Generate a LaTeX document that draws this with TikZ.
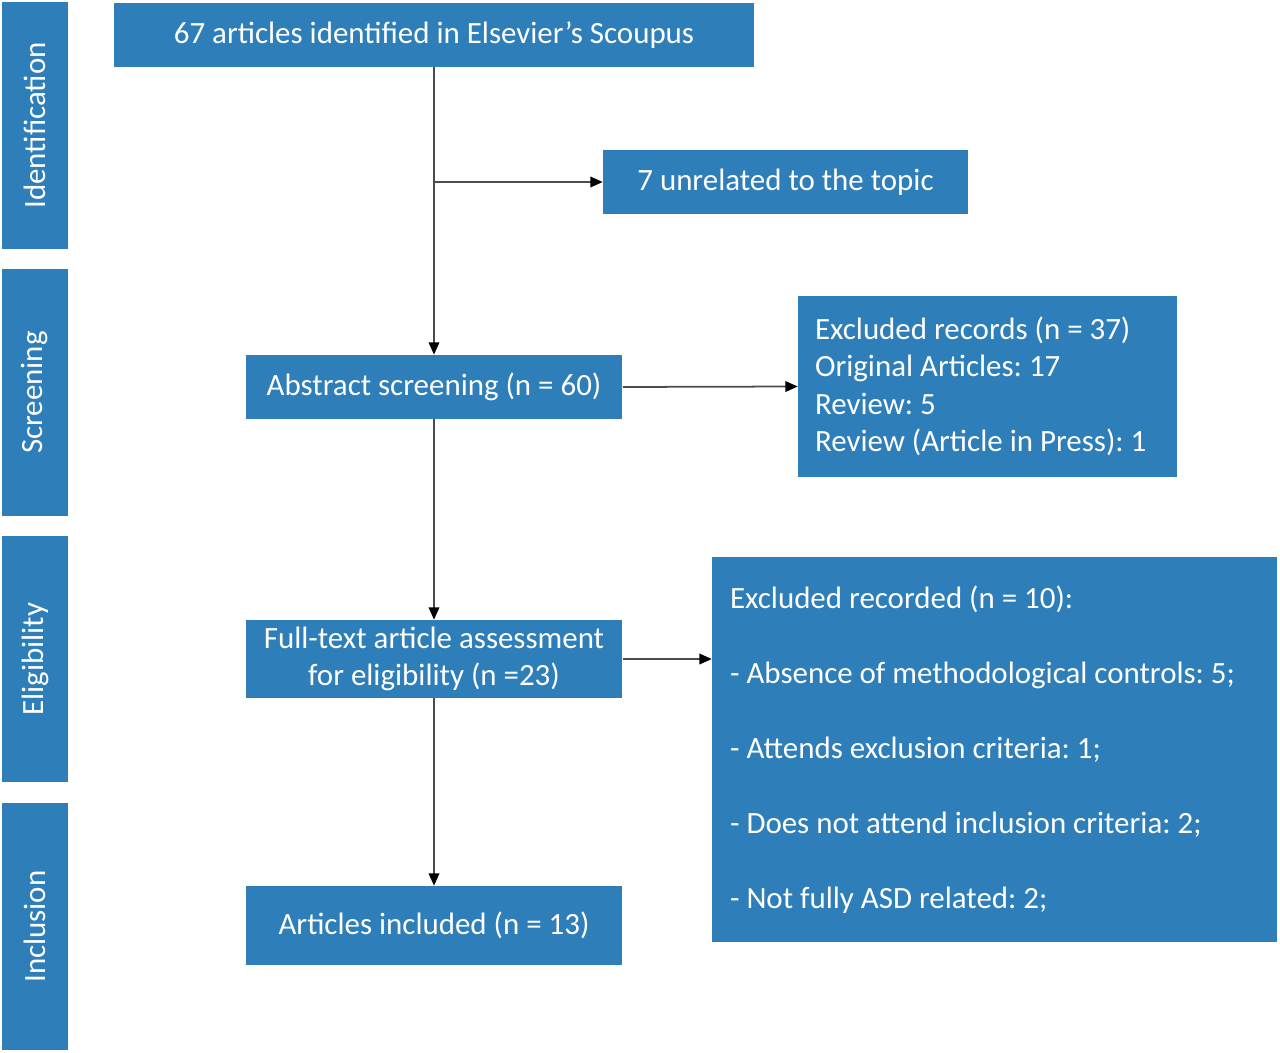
\documentclass[tikz,border=0pt]{standalone}
\usepackage{fontspec}
\setmainfont{Carlito}
\usepackage{tikz}
\usetikzlibrary{arrows.meta,positioning}
\frenchspacing
\definecolor{boxblue}{RGB}{46,126,186}
\tikzstyle{blk}=[fill=boxblue,text=white,inner sep=0pt,font=\fontsize{17.6}{21.3}\selectfont]
\tikzstyle{side}=[blk,rotate=90,minimum width=4.94cm,minimum height=1.32cm]
\tikzstyle{arr}=[draw=gray!60!black,line width=1pt,-{Triangle[length=7pt,width=6pt,color=black]}]

\begin{document}
\begin{tikzpicture}[x=0.02cm,y=-0.02cm]
	\useasboundingbox (0,0) rectangle (1280,1053);
	\node[side] (id) at (35,125.5) {Identification};
	\node[side] (scr) at (35,392.5) {Screening};
	\node[side] (elig) at (35,659) {Eligibility};
	\node[side] (inc) at (35,926.5) {Inclusion};
	\node[blk,minimum width=12.8cm,minimum height=1.28cm] (top) at (434,35) {67 articles identified in Elsevier's Scoupus};
	\node[blk,minimum width=7.3cm,minimum height=1.28cm] (unrel) at (785.5,182) {7 unrelated to the topic};
	\node[blk,minimum width=7.54cm,minimum height=1.28cm] (abs) at (434,387) {Abstract screening (n = 60)};
	\node[blk,inner xsep=0.34cm,text width=6.9cm,align=flush left,minimum height=3.62cm] (exc1) at (987.5,386.5) {Excluded records (n = 37)\\Original Articles: 17\\Review: 5\\Review (Article in Press): 1};
	\node[blk,minimum width=7.54cm,minimum height=1.56cm,align=flush center] (full) at (434,659) {Full-text article assessment\\for eligibility (n =23)};
	\node[blk,inner xsep=0.36cm,text width=10.58cm,align=flush left,minimum height=7.7cm] (exc2) at (994.5,749.5) {Excluded recorded (n = 10):\\[21.3pt]- Absence of methodological controls: 5;\\[21.3pt]- Attends exclusion criteria: 1;\\[21.3pt]- Does not attend inclusion criteria: 2;\\[21.3pt]- Not fully ASD related: 2;};
	\node[blk,minimum width=7.54cm,minimum height=1.58cm] (incl) at (434,925.5) {Articles included (n = 13)};
	\coordinate (br) at (top.south |- unrel.west);
	\draw[arr] (top.south) -- (abs.north);
	\draw[arr] (br) -- (unrel.west);
	\draw[arr] (abs.east) -- (exc1.west);
	\draw[arr] (abs.south) -- (full.north);
	\draw[arr] (full.east) -- (full.east -| exc2.west);
	\draw[arr] (full.south) -- (incl.north);
\end{tikzpicture}
\end{document}
